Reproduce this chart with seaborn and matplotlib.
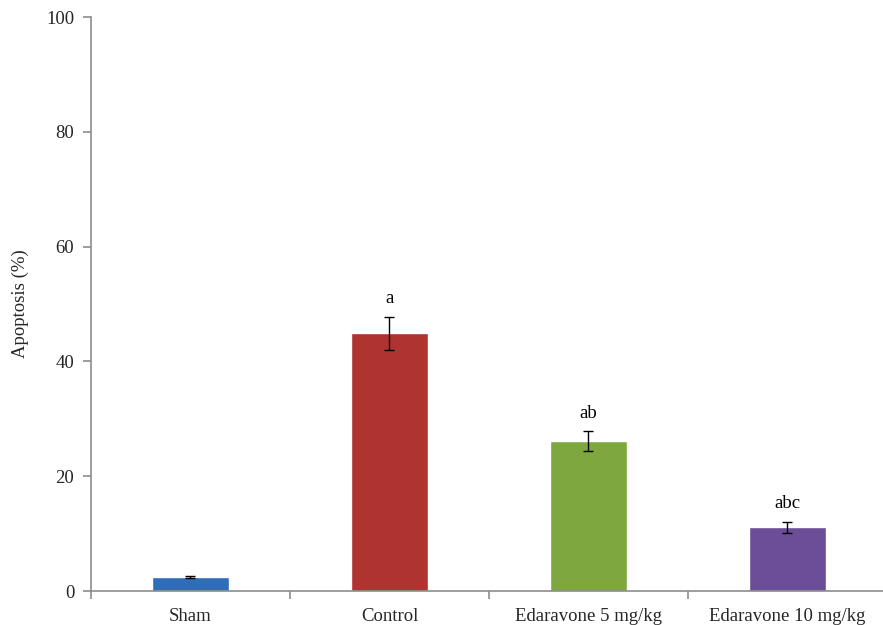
import matplotlib
matplotlib.use("Agg")
import matplotlib.pyplot as plt
import seaborn as sns
import pandas as pd
import numpy as np

groups = ["Sham", "Control", "Edaravone 5 mg/kg", "Edaravone 10 mg/kg"]
apoptosis = [2.4, 44.9, 26.1, 11.1]
errors = [0.2, 2.9, 1.7, 1.0]
letters = ["", "a", "ab", "abc"]
bar_colors = ["#2F6DB5", "#AF3430", "#7EA83F", "#6B4E97"]
y_ticks = [0, 20, 40, 60, 80, 100]

sns.set_theme(style="white")
plt.rcParams["font.family"] = ["Liberation Serif", "DejaVu Serif"]

df = pd.DataFrame({"group": groups, "apoptosis": apoptosis})

fig = plt.figure(figsize=(8.83, 6.25), dpi=100)
ax = fig.add_axes([0.103, 0.0544, 0.9015, 0.9184])

sns.barplot(data=df, x="group", y="apoptosis", hue="group", palette=bar_colors,
            order=groups, hue_order=groups, legend=False, errorbar=None,
            width=0.39, saturation=1, ax=ax)

xs = np.arange(len(groups))
ax.errorbar(xs, apoptosis, yerr=errors, fmt="none", ecolor="black",
            elinewidth=1.0, capsize=3.5, capthick=1.0)

for x, m, e, lab in zip(xs, apoptosis, errors, letters):
    if lab:
        ax.text(x, m + e + 3.2, lab, ha="center", va="center", fontsize=13.5,
                color="black")

ax.set_xlim(-0.5, len(groups) - 0.5)
ax.set_ylim(0, 100)
ax.set_yticks(y_ticks)
ax.set_ylabel("Apoptosis (%)", fontsize=13.5)
ax.yaxis.set_label_coords(-0.078, 0.5)
ax.set_xlabel("")

for side in ["top", "right"]:
    ax.spines[side].set_visible(False)
for side in ["left", "bottom"]:
    ax.spines[side].set_color("#8c8c8c")
    ax.spines[side].set_linewidth(1.2)

# category separators on the x-axis, labels centred under the bars
ax.set_xticks(np.arange(-0.5, len(groups) + 0.5, 1.0))
ax.set_xticklabels([])
ax.set_xticks(xs, minor=True)
ax.set_xticklabels(groups, minor=True)
ax.tick_params(axis="x", which="major", direction="out", length=6,
               color="#8c8c8c", width=1.2, bottom=True)
ax.tick_params(axis="x", which="minor", length=0, labelsize=13.5, pad=12)
ax.tick_params(axis="y", direction="out", length=6, color="#8c8c8c",
               width=1.2, left=True, labelsize=13.5, pad=6)

fig.savefig("out.png", dpi=100)
